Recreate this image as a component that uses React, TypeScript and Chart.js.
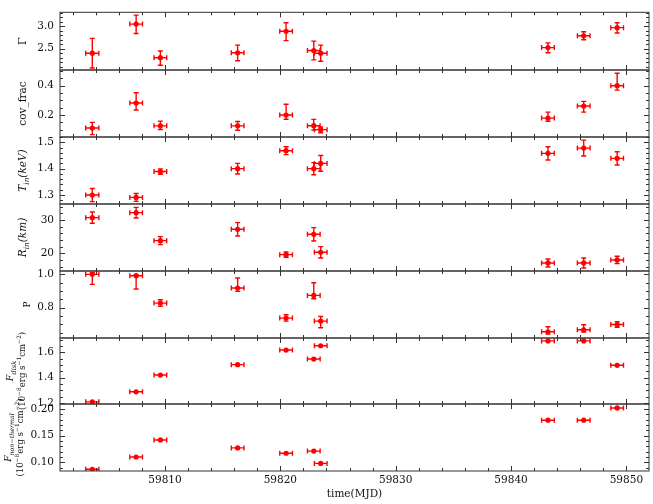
import React, { useEffect, useRef } from 'react';
import { Chart, registerables } from 'chart.js';

Chart.register(...registerables);

// ---------------- data ----------------
const MJD = [59803.7, 59807.5, 59809.6, 59816.3, 59820.5, 59822.9, 59823.5, 59843.2, 59846.3, 59849.2];
const MJD_ERR = [0.57, 0.55, 0.55, 0.55, 0.55, 0.55, 0.55, 0.55, 0.55, 0.55];

const GAMMA = [2.40, 3.05, 2.30, 2.41, 2.89, 2.46, 2.40, 2.525, 2.79, 2.97];
const GAMMA_ERR_LO = [0.33, 0.21, 0.17, 0.18, 0.21, 0.21, 0.18, 0.115, 0.09, 0.12];
const GAMMA_ERR_HI = [0.33, 0.20, 0.15, 0.17, 0.19, 0.21, 0.18, 0.105, 0.09, 0.11];
const GAMMA_TICKS = [2.5, 3.0];

const COV = [0.111, 0.282, 0.126, 0.126, 0.200, 0.127, 0.100, 0.179, 0.261, 0.400];
const COV_ERR_LO = [0.045, 0.048, 0.025, 0.03, 0.029, 0.029, 0.021, 0.022, 0.041, 0.03];
const COV_ERR_HI = [0.039, 0.07, 0.032, 0.03, 0.073, 0.043, 0.018, 0.041, 0.032, 0.085];
const COV_TICKS = [0.2, 0.4];

const TIN = [1.300, 1.291, 1.389, 1.400, 1.468, 1.400, 1.420, 1.458, 1.478, 1.439];
const TIN_ERR = [0.025, 0.015, 0.01, 0.02, 0.015, 0.023, 0.03, 0.025, 0.03, 0.025];
const TIN_TICKS = [1.3, 1.4, 1.5];

const RIN = [30.7, 32.2, 23.8, 27.2, 19.6, 25.7, 20.3, 17.1, 17.1, 18.0];
const RIN_ERR = [1.7, 1.6, 1.2, 2.0, 0.8, 2.0, 1.7, 1.2, 1.5, 1.1];
const RIN_TICKS = [20, 30];

const P_VAL = [1.0, 0.992, 0.828, 0.918, 0.738, 0.874, 0.72, 0.656, 0.668, 0.70];
const P_ERR_LO = [0.06, 0.08, 0.02, 0.02, 0.018, 0.02, 0.04, 0.014, 0.014, 0.017];
const P_ERR_HI = [0.01, 0.006, 0.02, 0.06, 0.02, 0.076, 0.028, 0.03, 0.03, 0.017];
const P_TICKS = [0.8, 1.0];

const FDISK = [1.21, 1.289, 1.421, 1.503, 1.618, 1.547, 1.652, 1.69, 1.69, 1.498];
const FDISK_ERR = [0.003, 0.003, 0.003, 0.003, 0.003, 0.003, 0.003, 0.003, 0.003, 0.003];
const FDISK_TICKS = [1.2, 1.4, 1.6];

const FNON = [0.087, 0.110, 0.142, 0.127, 0.117, 0.121, 0.098, 0.179, 0.179, 0.202];
const FNON_ERR = [0.0008, 0.0008, 0.0008, 0.0008, 0.0008, 0.0008, 0.0008, 0.0008, 0.0008, 0.0008];
const FNON_TICKS = [0.10, 0.15, 0.20];

const X_TICKS = [59810, 59820, 59830, 59840, 59850];
const X_TITLE = 'time(MJD)';

type Seg = { t: string; it?: boolean; sub?: boolean; sup?: boolean };

const LABEL_GAMMA: Seg[][] = [[{ t: 'Γ' }]];
const LABEL_COV: Seg[][] = [[{ t: 'cov_frac' }]];
const LABEL_TIN: Seg[][] = [[{ t: 'T', it: true }, { t: 'in', it: true, sub: true }, { t: '(keV)', it: true }]];
const LABEL_RIN: Seg[][] = [[{ t: 'R', it: true }, { t: 'in', it: true, sub: true }, { t: '(km)', it: true }]];
const LABEL_P: Seg[][] = [[{ t: 'P' }]];
const UNIT_LINE: Seg[] = [
  { t: '(10' }, { t: '−8', sup: true }, { t: 'erg s' }, { t: '−1', sup: true },
  { t: 'cm' }, { t: '−2', sup: true }, { t: ')' },
];
const LABEL_FDISK: Seg[][] = [[{ t: 'F', it: true }, { t: 'disk', it: true, sub: true }], UNIT_LINE];
const LABEL_FNON: Seg[][] = [[{ t: 'F', it: true }, { t: 'non−thermal', it: true, sub: true }], UNIT_LINE];

// ---------------- layout / style ----------------
const W = 653;
const H = 504;
const PLOT_LEFT = 60;
const PLOT_RIGHT = 649;
const EDGES = [3, 70, 137, 204, 271, 338, 404, 471];
const X_MIN = 59800.9;
const X_MAX = 59851.96;
const X_MINOR = 2;
const FONT = '"DejaVu Serif", serif';
const TXT = '#111';
const FRAME = '#333';
const RED = '#ff0000';
const CAP = 2.5;

type Panel = {
  values: number[]; lo: number[]; hi: number[];
  min: number; max: number; ticks: number[]; minor: number; dec: number;
  label: Seg[][]; labelX: number[]; labelSize: number[];
};

const PANELS: Panel[] = [
  { values: GAMMA, lo: GAMMA_ERR_LO, hi: GAMMA_ERR_HI, min: 2.025, max: 3.313, ticks: GAMMA_TICKS, minor: 0.1, dec: 1, label: LABEL_GAMMA, labelX: [26], labelSize: [11.5] },
  { values: COV, lo: COV_ERR_LO, hi: COV_ERR_HI, min: 0.05, max: 0.507, ticks: COV_TICKS, minor: 0.05, dec: 1, label: LABEL_COV, labelX: [26], labelSize: [10.5] },
  { values: TIN, lo: TIN_ERR, hi: TIN_ERR, min: 1.266, max: 1.520, ticks: TIN_TICKS, minor: 0.02, dec: 1, label: LABEL_TIN, labelX: [26], labelSize: [10.5] },
  { values: RIN, lo: RIN_ERR, hi: RIN_ERR, min: 14.69, max: 34.8, ticks: RIN_TICKS, minor: 2, dec: 0, label: LABEL_RIN, labelX: [26], labelSize: [10.5] },
  { values: P_VAL, lo: P_ERR_LO, hi: P_ERR_HI, min: 0.619, max: 1.02, ticks: P_TICKS, minor: 0.05, dec: 1, label: LABEL_P, labelX: [30], labelSize: [9] },
  { values: FDISK, lo: FDISK_ERR, hi: FDISK_ERR, min: 1.193, max: 1.713, ticks: FDISK_TICKS, minor: 0.05, dec: 1, label: LABEL_FDISK, labelX: [13, 25], labelSize: [9.5, 8.5] },
  { values: FNON, lo: FNON_ERR, hi: FNON_ERR, min: 0.0837, max: 0.2094, ticks: FNON_TICKS, minor: 0.01, dec: 2, label: LABEL_FNON, labelX: [11, 23], labelSize: [9, 8.5] },
];

function segFont(s: Seg, size: number) {
  const sz = s.sub || s.sup ? size * 0.7 : size;
  return `${s.it ? 'italic ' : ''}${sz}px ${FONT}`;
}

function drawRotated(ctx: CanvasRenderingContext2D, segs: Seg[], baseX: number, cy: number, size: number) {
  let total = 0;
  const widths = segs.map((s) => {
    ctx.font = segFont(s, size);
    const w = ctx.measureText(s.t).width;
    total += w;
    return w;
  });
  ctx.save();
  ctx.translate(baseX, cy);
  ctx.rotate(-Math.PI / 2);
  ctx.fillStyle = TXT;
  ctx.textBaseline = 'alphabetic';
  ctx.textAlign = 'left';
  let cur = -total / 2;
  segs.forEach((s, i) => {
    ctx.font = segFont(s, size);
    const dy = s.sub ? size * 0.28 : s.sup ? -size * 0.42 : 0;
    ctx.fillText(s.t, cur, dy);
    cur += widths[i];
  });
  ctx.restore();
}

function makePlugin(p: Panel, idx: number, isLast: boolean) {
  return {
    id: 'panelDecor' + idx,
    beforeDatasetsDraw(chart: any) {
      const { ctx, chartArea: a, scales } = chart;
      const xs = scales.x;
      const ys = scales.y;
      ctx.save();
      ctx.beginPath();
      ctx.rect(a.left, a.top, a.right - a.left, a.bottom - a.top);
      ctx.clip();
      ctx.strokeStyle = RED;
      ctx.lineWidth = 1.4;
      ctx.beginPath();
      for (let i = 0; i < MJD.length; i++) {
        const cx = xs.getPixelForValue(MJD[i]);
        const cy = ys.getPixelForValue(p.values[i]);
        const xl = xs.getPixelForValue(MJD[i] - MJD_ERR[i]);
        const xr = xs.getPixelForValue(MJD[i] + MJD_ERR[i]);
        const yb = ys.getPixelForValue(p.values[i] - p.lo[i]);
        const yt = ys.getPixelForValue(p.values[i] + p.hi[i]);
        ctx.moveTo(xl, cy); ctx.lineTo(xr, cy);
        ctx.moveTo(xl, cy - CAP); ctx.lineTo(xl, cy + CAP);
        ctx.moveTo(xr, cy - CAP); ctx.lineTo(xr, cy + CAP);
        ctx.moveTo(cx, yb); ctx.lineTo(cx, yt);
        if (Math.abs(yb - yt) > 3) {
          ctx.moveTo(cx - CAP, yb); ctx.lineTo(cx + CAP, yb);
          ctx.moveTo(cx - CAP, yt); ctx.lineTo(cx + CAP, yt);
        }
      }
      ctx.stroke();
      ctx.restore();
    },
    afterDraw(chart: any) {
      const { ctx, chartArea: a, scales } = chart;
      const xs = scales.x;
      const ys = scales.y;
      ctx.save();
      ctx.strokeStyle = FRAME;
      ctx.lineWidth = 1;
      ctx.strokeRect(a.left, a.top, a.right - a.left, a.bottom - a.top);
      ctx.beginPath();
      const n0 = Math.ceil(X_MIN / X_MINOR);
      const n1 = Math.floor(X_MAX / X_MINOR);
      for (let n = n0; n <= n1; n++) {
        const v = n * X_MINOR;
        const len = X_TICKS.includes(v) ? 5 : 3;
        const px = Math.round(xs.getPixelForValue(v)) + 0.5;
        ctx.moveTo(px, a.bottom); ctx.lineTo(px, a.bottom - len);
        ctx.moveTo(px, a.top); ctx.lineTo(px, a.top + len);
      }
      const m0 = Math.ceil(p.min / p.minor - 1e-9);
      const m1 = Math.floor(p.max / p.minor + 1e-9);
      for (let m = m0; m <= m1; m++) {
        const v = m * p.minor;
        const major = p.ticks.some((t) => Math.abs(t - v) < p.minor * 0.01);
        const len = major ? 5 : 3;
        const py = Math.round(ys.getPixelForValue(v)) + 0.5;
        ctx.moveTo(a.left, py); ctx.lineTo(a.left + len, py);
        ctx.moveTo(a.right, py); ctx.lineTo(a.right - len, py);
      }
      ctx.stroke();
      ctx.restore();

      const cy = (a.top + a.bottom) / 2;
      p.label.forEach((line, li) => drawRotated(ctx, line, p.labelX[li], cy, p.labelSize[li]));

      if (isLast) {
        ctx.save();
        ctx.fillStyle = TXT;
        ctx.font = `10.5px ${FONT}`;
        ctx.textAlign = 'center';
        ctx.textBaseline = 'middle';
        ctx.fillText(X_TITLE, (a.left + a.right) / 2, 494);
        ctx.restore();
      }
    },
  };
}

function PanelChart({ p, idx }: { p: Panel; idx: number }) {
  const ref = useRef<HTMLCanvasElement | null>(null);
  useEffect(() => {
    if (!ref.current) return;
    const isLast = idx === PANELS.length - 1;
    const top = EDGES[idx];
    const bottom = EDGES[idx + 1];
    const xScale: any = {
      type: 'linear',
      min: X_MIN,
      max: X_MAX,
      display: isLast,
      grid: { display: false, drawTicks: false },
      border: { display: false },
      ticks: {
        padding: 3,
        color: TXT,
        maxRotation: 0,
        autoSkip: false,
        font: { family: 'DejaVu Serif', size: 10.5 },
        callback: (v: any) => String(v),
      },
    };
    if (isLast) {
      xScale.afterBuildTicks = (s: any) => { s.ticks = X_TICKS.map((v) => ({ value: v })); };
      xScale.afterFit = (s: any) => { s.height = H - bottom; };
    }
    const chart = new Chart(ref.current, {
      type: 'scatter',
      data: {
        datasets: [
          {
            data: MJD.map((x, i) => ({ x, y: p.values[i] })),
            pointRadius: 2.6,
            pointHoverRadius: 2.6,
            pointBackgroundColor: RED,
            pointBorderWidth: 0,
            showLine: false,
          },
        ],
      },
      options: {
        responsive: false,
        animation: false,
        devicePixelRatio: 1,
        events: [],
        layout: {
          padding: { top, left: 0, right: W - PLOT_RIGHT, bottom: isLast ? 0 : H - bottom },
        },
        plugins: { legend: { display: false }, tooltip: { enabled: false } },
        scales: {
          x: xScale,
          y: {
            type: 'linear',
            min: p.min,
            max: p.max,
            afterBuildTicks: (s: any) => { s.ticks = p.ticks.map((v) => ({ value: v })); },
            afterFit: (s: any) => { s.width = PLOT_LEFT; },
            grid: { display: false, drawTicks: false },
            border: { display: false },
            ticks: {
              padding: 6,
              color: TXT,
              autoSkip: false,
              font: { family: 'DejaVu Serif', size: 10.5 },
              callback: (v: any) => Number(v).toFixed(p.dec),
            },
          },
        },
      },
      plugins: [makePlugin(p, idx, isLast)],
    } as any);
    return () => chart.destroy();
  }, [p, idx]);
  return (
    <canvas
      ref={ref}
      width={W}
      height={H}
      style={{ position: 'absolute', left: 0, top: 0, width: W, height: H }}
    />
  );
}

export default function App() {
  return (
    <div style={{ position: 'absolute', left: 0, top: 0, width: W, height: H, background: '#fff' }}>
      {PANELS.map((p, i) => (
        <PanelChart key={i} p={p} idx={i} />
      ))}
    </div>
  );
}
